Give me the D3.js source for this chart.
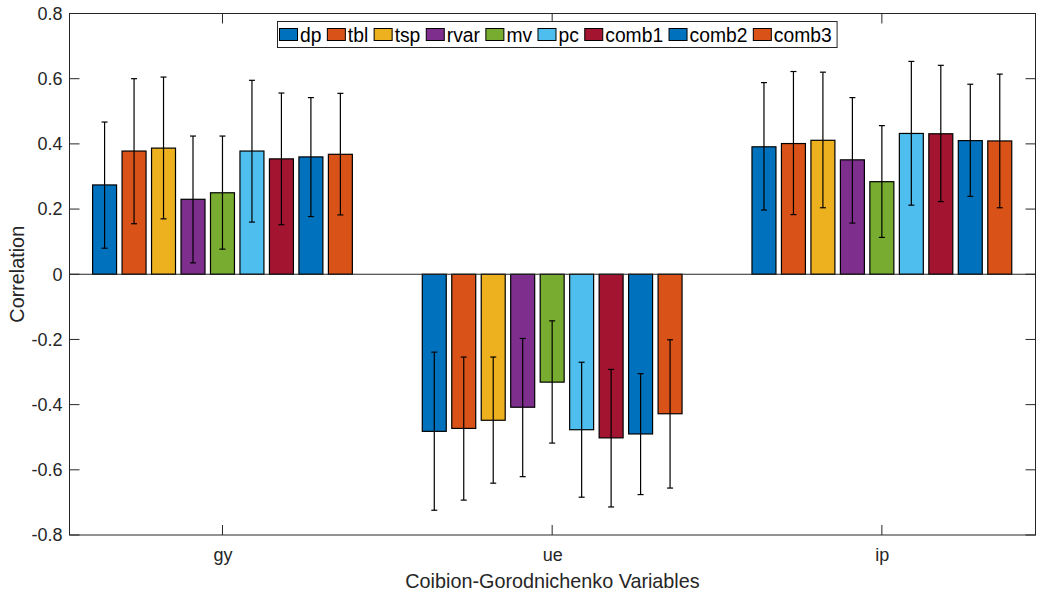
<!DOCTYPE html>
<html>
<head>
<meta charset="utf-8">
<script src="https://cdn.jsdelivr.net/npm/d3@7"></script>
<style>
  body { margin: 0; background: #fff; }
  svg { font-family: "Liberation Sans", Arial, Helvetica, sans-serif; }
</style>
</head>
<body>
<svg id="chart" width="1041" height="601"></svg>
<script>
const categories = ['gy', 'ue', 'ip'];
const seriesNames = ['dp', 'tbl', 'tsp', 'rvar', 'mv', 'pc', 'comb1', 'comb2', 'comb3'];
const colors = ['#0072BD', '#D95319', '#EDB120', '#7E2F8E', '#77AC30', '#4DBEEE', '#A2142F', '#0072BD', '#D95319'];

// one row per category, one value per series
const gyValues = [0.274, 0.378, 0.387, 0.230, 0.250, 0.378, 0.354, 0.360, 0.368];
const ueValues = [-0.482, -0.473, -0.448, -0.408, -0.331, -0.477, -0.502, -0.490, -0.428];
const ipValues = [0.391, 0.401, 0.411, 0.351, 0.284, 0.432, 0.431, 0.410, 0.409];

const gyLow = [0.080, 0.155, 0.170, 0.035, 0.077, 0.160, 0.152, 0.177, 0.182];
const gyHigh = [0.467, 0.600, 0.605, 0.424, 0.424, 0.595, 0.556, 0.542, 0.555];
const ueLow = [-0.724, -0.693, -0.641, -0.621, -0.518, -0.684, -0.714, -0.676, -0.656];
const ueHigh = [-0.239, -0.254, -0.254, -0.197, -0.143, -0.270, -0.292, -0.305, -0.201];
const ipLow = [0.197, 0.183, 0.204, 0.157, 0.113, 0.212, 0.223, 0.239, 0.204];
const ipHigh = [0.588, 0.622, 0.620, 0.542, 0.456, 0.653, 0.641, 0.583, 0.614];

const yTicks = [-0.8, -0.6, -0.4, -0.2, 0, 0.2, 0.4, 0.6, 0.8];

const values = [gyValues, ueValues, ipValues];
const lows = [gyLow, ueLow, ipLow];
const highs = [gyHigh, ueHigh, ipHigh];

const plotLeft = 69.5, plotRight = 1035.5, plotTop = 13.5, plotBottom = 535;
const axisColor = '#262626';
const tickFont = 18;
const labelFont = 19.8;

const svg = d3.select('#chart');

const x = d3.scaleLinear().domain([0.536, 3.466]).range([plotLeft, plotRight]);
const y = d3.scaleLinear().domain([-0.8, 0.8]).range([plotBottom, plotTop]);

const barStep = 0.0894;
const barWidth = 0.0727;

const rows = [];
categories.forEach((c, i) => {
    seriesNames.forEach((s, j) => {
        rows.push({
            cat: i + 1,
            j: j,
            value: values[i][j],
            lo: lows[i][j],
            hi: highs[i][j],
            pos: i + 1 + (j - 4) * barStep
        });
    });
});

// bars
svg.append('g').selectAll('rect')
    .data(rows)
    .enter()
    .append('rect')
    .attr('x', d => x(d.pos - barWidth / 2))
    .attr('width', d => x(d.pos + barWidth / 2) - x(d.pos - barWidth / 2))
    .attr('y', d => y(Math.max(0, d.value)))
    .attr('height', d => Math.abs(y(d.value) - y(0)))
    .attr('fill', d => colors[d.j])
    .attr('stroke', '#000')
    .attr('stroke-width', 1.2);

// baseline
svg.append('line')
    .attr('x1', plotLeft).attr('x2', plotRight)
    .attr('y1', y(0)).attr('y2', y(0))
    .attr('stroke', axisColor)
    .attr('stroke-width', 1.2);

// error bars
const err = svg.append('g').attr('stroke', '#000').attr('stroke-width', 1.2);
err.selectAll('.ev')
    .data(rows)
    .enter()
    .append('line')
    .attr('x1', d => x(d.pos)).attr('x2', d => x(d.pos))
    .attr('y1', d => y(d.lo)).attr('y2', d => y(d.hi));
err.selectAll('.cap-lo')
    .data(rows)
    .enter()
    .append('line')
    .attr('x1', d => x(d.pos) - 3).attr('x2', d => x(d.pos) + 3)
    .attr('y1', d => y(d.lo)).attr('y2', d => y(d.lo));
err.selectAll('.cap-hi')
    .data(rows)
    .enter()
    .append('line')
    .attr('x1', d => x(d.pos) - 3).attr('x2', d => x(d.pos) + 3)
    .attr('y1', d => y(d.hi)).attr('y2', d => y(d.hi));

// axes box
const axes = svg.append('g');
axes.append('rect')
    .attr('x', plotLeft).attr('y', plotTop)
    .attr('width', plotRight - plotLeft).attr('height', plotBottom - plotTop)
    .attr('fill', 'none')
    .attr('stroke', axisColor)
    .attr('stroke-width', 1);

const yAxis = d3.axisLeft(y)
    .tickValues(yTicks)
    .tickSize(0)
    .tickPadding(7)
    .tickFormat(d => d === 0 ? '0' : d.toFixed(1));

const gY = axes.append('g')
    .attr('transform', `translate(${plotLeft},0)`)
    .call(yAxis);
gY.select('.domain').remove();
gY.selectAll('text')
    .attr('font-size', tickFont)
    .attr('fill', axisColor)
    .attr('font-family', '"Liberation Sans", Arial, sans-serif');

// inward ticks on both sides
axes.selectAll('.ytl')
    .data(yTicks)
    .enter()
    .append('line')
    .attr('x1', plotLeft).attr('x2', plotLeft + 10)
    .attr('y1', d => y(d)).attr('y2', d => y(d))
    .attr('stroke', axisColor);
axes.selectAll('.ytr')
    .data(yTicks)
    .enter()
    .append('line')
    .attr('x1', plotRight - 10).attr('x2', plotRight)
    .attr('y1', d => y(d)).attr('y2', d => y(d))
    .attr('stroke', axisColor);

const xAxis = d3.axisBottom(x)
    .tickValues([1, 2, 3])
    .tickSize(0)
    .tickPadding(13)
    .tickFormat((d, i) => categories[i]);

const gX = axes.append('g')
    .attr('transform', `translate(0,${plotBottom})`)
    .call(xAxis);
gX.select('.domain').remove();
gX.selectAll('text')
    .attr('font-size', tickFont)
    .attr('fill', axisColor)
    .attr('font-family', '"Liberation Sans", Arial, sans-serif');

axes.selectAll('.xtb')
    .data([1, 2, 3])
    .enter()
    .append('line')
    .attr('x1', d => x(d)).attr('x2', d => x(d))
    .attr('y1', plotBottom).attr('y2', plotBottom - 10)
    .attr('stroke', axisColor);
axes.selectAll('.xtt')
    .data([1, 2, 3])
    .enter()
    .append('line')
    .attr('x1', d => x(d)).attr('x2', d => x(d))
    .attr('y1', plotTop).attr('y2', plotTop + 10)
    .attr('stroke', axisColor);

// axis titles
svg.append('text')
    .attr('transform', `translate(24,${(plotTop + plotBottom) / 2}) rotate(-90)`)
    .attr('text-anchor', 'middle')
    .attr('font-size', labelFont)
    .attr('fill', axisColor)
    .text('Correlation');

svg.append('text')
    .attr('x', (plotLeft + plotRight) / 2)
    .attr('y', 588)
    .attr('text-anchor', 'middle')
    .attr('font-size', labelFont)
    .attr('fill', axisColor)
    .text('Coibion-Gorodnichenko Variables');

// legend
const legend = svg.append('g');
const legendBox = legend.append('rect')
    .attr('x', 277.5).attr('y', 21.5)
    .attr('height', 26)
    .attr('fill', '#fff')
    .attr('stroke', axisColor)
    .attr('stroke-width', 1);

let lx = 279;
seriesNames.forEach((name, j) => {
    legend.append('rect')
        .attr('x', lx + 0.5).attr('y', 28.5)
        .attr('width', 18).attr('height', 12)
        .attr('fill', colors[j])
        .attr('stroke', '#000')
        .attr('stroke-width', 1);
    const t = legend.append('text')
        .attr('x', lx + 21)
        .attr('y', 41.5)
        .attr('font-size', 19.3)
        .attr('fill', '#000')
        .text(name);
    lx += 21 + t.node().getComputedTextLength() + 5.4;
});
legendBox.attr('width', lx - 277.5);
</script>
</body>
</html>
